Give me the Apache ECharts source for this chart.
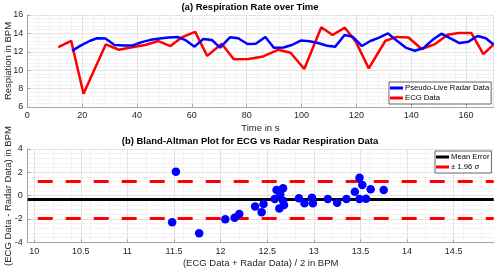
<!DOCTYPE html>
<html>
<head>
<meta charset="utf-8">
<script src="https://cdn.jsdelivr.net/npm/echarts@6/dist/echarts.min.js"></script>
<style>html,body{margin:0;padding:0;background:#fff}#c{width:500px;height:273px}</style>
</head>
<body>
<div id="c"></div>
<script>
// ---- Data: (a) Respiration rate over time ----
const radarTime = [16.3,19.6,22.9,25.4,28.5,31.8,35.1,38.4,41.7,45,48.3,51.6,54.9,57.5,61,64.2,67.3,70.3,73.9,76.9,80.3,83.3,86.8,89.9,93.4,96.5,99.7,102.9,106,109.3,112.3,115.7,118.6,122,125.1,128.3,131.5,134.8,138.2,141.3,144.5,147.8,151,154.3,157.6,160.9,164.2,167.2,170];
const radarRate = [12.1,12.7,13.2,13.47,13.45,12.74,12.68,12.68,13.05,13.3,13.45,13.55,13.6,13.3,12.56,13.4,13.28,12.45,13.57,13.47,12.85,12.88,13.6,12.45,12.47,12.74,13.22,13.15,12.95,12.65,12.56,13.83,13.65,12.63,13.17,13.55,14.0,13.2,12.42,12.12,12.42,13.3,13.97,13.45,12.95,13.1,13.72,13.47,12.8];
const ecgTime = [11.3,16,20.5,28.6,33.4,38.2,43,47.8,52.2,56.5,61.2,65.6,70.9,75.3,80.7,86,91.6,96,101,107.2,111.3,115.8,119.8,124.5,130.6,134.7,139,143.8,148.7,153.3,157.3,161.9,166.3,170];
const ecgRate = [12.52,13.2,7.45,12.8,12.22,12.5,12.74,13.17,12.62,13.6,14.17,11.56,12.88,11.18,11.22,11.5,12.23,11.9,10.13,14.66,13.83,14.62,13.1,10.2,13.2,13.62,13.55,12.3,12.84,13.85,14.05,14.05,11.75,12.78];

// ---- Data: (b) Bland-Altman ----
const baMeanVals = [11.52,11.48,11.77,12.05,12.15,12.2,12.37,12.44,12.46,12.58,12.6,12.67,12.64,12.63,12.68,12.67,12.84,12.9,12.98,12.99,13.15,13.25,13.35,13.44,13.49,13.52,13.49,13.56,13.61,13.75];
const baDiffVals = [2.06,-2.28,-3.22,-2.02,-1.89,-1.57,-0.94,-1.42,-0.71,-0.28,0.49,0.63,0.12,-1.11,-0.8,-0.43,-0.22,-0.65,-0.17,-0.65,-0.28,-0.6,-0.28,0.34,1.54,0.92,-0.28,-0.26,0.55,0.49];
const meanError = -0.31;
const limitsOfAgreement = [1.25, -1.9];
const baXTicks = [10,10.5,11,11.5,12,12.5,13,13.5,14,14.5];

const FONT = 'Liberation Sans, Arial, Helvetica, sans-serif';
const TXT = '#262626';
const AX = '#a6a6a6';

function zip(a,b){return a.map((v,i)=>[v,b[i]]);}

const chart = echarts.init(document.getElementById('c'), null, {renderer:'canvas'});

const axisCommon = {
  axisLine:{show:true, onZero:false, lineStyle:{color:AX, width:1}},
  axisTick:{show:true, inside:true, length:3, lineStyle:{color:AX}},
  axisLabel:{color:TXT, fontFamily:FONT, fontSize:9},
  splitLine:{show:true, lineStyle:{color:'#e3e3e3', width:1}},
  minorSplitLine:{show:true, lineStyle:{color:'#f3f3f3', width:1}},
  minorTick:{show:false}
};

const legendCommon = {
  orient:'vertical', padding:[2,2,2,1], itemGap:2, itemWidth:13, itemHeight:3, icon:'rect',
  backgroundColor:'#fff', borderColor:'#262626', borderWidth:0.7, borderRadius:0,
  textStyle:{color:'#000', fontFamily:FONT, fontSize:7.7, padding:[0,0,0,-3]}
};

const option = {
  animation:false,
  grid:[
    {left:27.3, top:15, width:466.2, height:92, containLabel:false, outerBoundsMode:'none'},
    {left:27.7, top:149, width:466, height:93.3, containLabel:false, outerBoundsMode:'none'}
  ],
  xAxis:[
    Object.assign({}, axisCommon, {gridIndex:0, type:'value', min:0, max:170, interval:20,
      axisLabel:{color:TXT, fontFamily:FONT, fontSize:9, margin:4, showMaxLabel:false},
      name:'Time in s', nameLocation:'middle', nameGap:16,
      nameTextStyle:{color:TXT, fontFamily:FONT, fontSize:9.5}}),
    Object.assign({}, axisCommon, {gridIndex:1, type:'value', min:9.93, max:14.93,
      axisLabel:{color:TXT, fontFamily:FONT, fontSize:9, margin:5, customValues:baXTicks},
      axisTick:{show:true, inside:true, length:3, lineStyle:{color:AX}, customValues:baXTicks},
      name:'(ECG Data + Radar Data) / 2 in BPM', nameLocation:'middle', nameGap:16,
      nameTextStyle:{color:TXT, fontFamily:FONT, fontSize:9.5}})
  ],
  yAxis:[
    Object.assign({}, axisCommon, {gridIndex:0, type:'value', min:6, max:16, interval:2,
      axisLabel:{color:TXT, fontFamily:FONT, fontSize:9, margin:4}}),
    Object.assign({}, axisCommon, {gridIndex:1, type:'value', min:-4, max:4, interval:2,
      axisLabel:{color:TXT, fontFamily:FONT, fontSize:9, margin:5}})
  ],
  legend:[
    Object.assign({}, legendCommon, {data:['Pseudo-Live Radar Data','ECG Data'], left:389, top:82}),
    Object.assign({}, legendCommon, {data:['Mean Error','± 1.96 σ'], left:435, top:151})
  ],
  graphic:[
    {type:'text', left:'center', top:2, style:{text:'(a) Respiration Rate over Time', font:'bold 9.5px '+FONT, fill:'#000'}, z:100},
    {type:'text', left:'center', top:136, style:{text:'(b) Bland-Altman Plot for ECG vs Radar Respiration Data', font:'bold 9.5px '+FONT, fill:'#000'}, z:100},
    {type:'text', x:8, y:61, rotation:Math.PI/2, style:{text:'Respiation in BPM', font:'9.5px '+FONT, fill:TXT, textAlign:'center', textVerticalAlign:'middle'}, z:100},
    {type:'text', x:8, y:196, rotation:Math.PI/2, style:{text:'(ECG Data - Radar Data) in BPM', font:'9.5px '+FONT, fill:TXT, textAlign:'center', textVerticalAlign:'middle'}, z:100}
  ],
  series:[
    {name:'Pseudo-Live Radar Data', type:'line', xAxisIndex:0, yAxisIndex:0, data:zip(radarTime, radarRate),
     showSymbol:false, symbol:'none', lineStyle:{color:'#0000ff', width:2.5}, itemStyle:{color:'#0000ff'}, z:3},
    {name:'ECG Data', type:'line', xAxisIndex:0, yAxisIndex:0, data:zip(ecgTime, ecgRate),
     showSymbol:false, symbol:'none', lineStyle:{color:'#ff0000', width:2.5}, itemStyle:{color:'#ff0000'}, z:2},
    {name:'Bland-Altman', type:'scatter', xAxisIndex:1, yAxisIndex:1, data:zip(baMeanVals, baDiffVals),
     symbolSize:8.5, itemStyle:{color:'#0000ff', opacity:1}, z:5},
    {name:'Mean Error', type:'line', xAxisIndex:1, yAxisIndex:1, data:[],
     itemStyle:{color:'#000'}, lineStyle:{color:'#000', width:3},
     markLine:{silent:true, symbol:'none', label:{show:false},
       lineStyle:{color:'#000', width:3, type:'solid'}, data:[{yAxis:meanError}]}, z:4},
    {name:'± 1.96 σ', type:'line', xAxisIndex:1, yAxisIndex:1, data:[],
     itemStyle:{color:'#ff0000'}, lineStyle:{color:'#ff0000', width:3},
     markLine:{silent:true, symbol:'none', label:{show:false},
       lineStyle:{color:'#ff0000', width:3, type:[15,13], dashOffset:-10},
       data:limitsOfAgreement.map(v=>({yAxis:v}))}, z:4}
  ]
};
chart.setOption(option);
</script>
</body>
</html>
